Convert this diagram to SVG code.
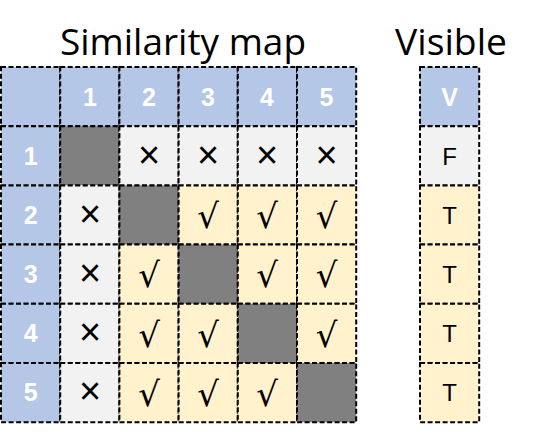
<svg xmlns="http://www.w3.org/2000/svg" width="538" height="433" viewBox="0 0 538 433">
<style>
.c{stroke:#000;stroke-width:2;stroke-dasharray:5,2.5}
.h{fill:#B4C7E7}
.g{fill:#F2F2F2}
.y{fill:#FFF2CC}
.d{fill:#808080}
.hn{font-family:"Liberation Sans",Arial,sans-serif;font-weight:bold;font-size:25px;fill:#fff;text-anchor:middle}
.x{font-family:"Liberation Sans",Arial,sans-serif;font-size:38px;fill:#000;text-anchor:middle}
.v{font-family:"DejaVu Sans",sans-serif;font-size:34px;fill:#000;text-anchor:middle}
.t{font-family:"Liberation Sans",Arial,sans-serif;font-size:24px;fill:#000;text-anchor:middle}
.ti{font-family:"Open Sans","Liberation Sans",sans-serif;font-size:37px;fill:#000;text-anchor:middle}
</style>
<rect width="538" height="433" fill="#fff"/>
<text class="ti" x="183" y="55" textLength="246" lengthAdjust="spacingAndGlyphs">Similarity map</text>
<text class="ti" x="451" y="55" textLength="112" lengthAdjust="spacingAndGlyphs">Visible</text>
<g id="similarity-map">
<g id="row-header">
<rect class="c h" x="1" y="67" width="59.2" height="59.2"/>
<rect class="c h" x="60.2" y="67" width="59.2" height="59.2"/>
<rect class="c h" x="119.4" y="67" width="59.2" height="59.2"/>
<rect class="c h" x="178.6" y="67" width="59.2" height="59.2"/>
<rect class="c h" x="237.8" y="67" width="59.2" height="59.2"/>
<rect class="c h" x="297" y="67" width="59.2" height="59.2"/>
<text class="hn" x="90" y="105.5">1</text>
<text class="hn" x="149" y="105.5">2</text>
<text class="hn" x="208" y="105.5">3</text>
<text class="hn" x="267" y="105.5">4</text>
<text class="hn" x="326.5" y="105.5">5</text>
</g>
<g id="row-1">
<rect class="c h" x="1" y="126.2" width="59.2" height="59.2"/>
<rect class="c d" x="60.2" y="126.2" width="59.2" height="59.2"/>
<rect class="c g" x="119.4" y="126.2" width="59.2" height="59.2"/>
<rect class="c g" x="178.6" y="126.2" width="59.2" height="59.2"/>
<rect class="c g" x="237.8" y="126.2" width="59.2" height="59.2"/>
<rect class="c g" x="297" y="126.2" width="59.2" height="59.2"/>
<text class="hn" x="30.6" y="164.5">1</text>
<text class="x" x="149" y="167.5">×</text>
<text class="x" x="208" y="167.5">×</text>
<text class="x" x="267" y="167.5">×</text>
<text class="x" x="326.5" y="167.5">×</text>
</g>
<g id="row-2">
<rect class="c h" x="1" y="185.4" width="59.2" height="59.2"/>
<rect class="c g" x="60.2" y="185.4" width="59.2" height="59.2"/>
<rect class="c d" x="119.4" y="185.4" width="59.2" height="59.2"/>
<rect class="c y" x="178.6" y="185.4" width="59.2" height="59.2"/>
<rect class="c y" x="237.8" y="185.4" width="59.2" height="59.2"/>
<rect class="c y" x="297" y="185.4" width="59.2" height="59.2"/>
<text class="hn" x="30.6" y="223.5">2</text>
<text class="x" x="90" y="226.5">×</text>
<text class="v" x="208" y="228">√</text>
<text class="v" x="267" y="228">√</text>
<text class="v" x="326.5" y="228">√</text>
</g>
<g id="row-3">
<rect class="c h" x="1" y="244.6" width="59.2" height="59.2"/>
<rect class="c g" x="60.2" y="244.6" width="59.2" height="59.2"/>
<rect class="c y" x="119.4" y="244.6" width="59.2" height="59.2"/>
<rect class="c d" x="178.6" y="244.6" width="59.2" height="59.2"/>
<rect class="c y" x="237.8" y="244.6" width="59.2" height="59.2"/>
<rect class="c y" x="297" y="244.6" width="59.2" height="59.2"/>
<text class="hn" x="30.6" y="282.5">3</text>
<text class="x" x="90" y="285.5">×</text>
<text class="v" x="149" y="287">√</text>
<text class="v" x="267" y="287">√</text>
<text class="v" x="326.5" y="287">√</text>
</g>
<g id="row-4">
<rect class="c h" x="1" y="303.8" width="59.2" height="59.2"/>
<rect class="c g" x="60.2" y="303.8" width="59.2" height="59.2"/>
<rect class="c y" x="119.4" y="303.8" width="59.2" height="59.2"/>
<rect class="c y" x="178.6" y="303.8" width="59.2" height="59.2"/>
<rect class="c d" x="237.8" y="303.8" width="59.2" height="59.2"/>
<rect class="c y" x="297" y="303.8" width="59.2" height="59.2"/>
<text class="hn" x="30.6" y="342">4</text>
<text class="x" x="90" y="345">×</text>
<text class="v" x="149" y="346.5">√</text>
<text class="v" x="208" y="346.5">√</text>
<text class="v" x="326.5" y="346.5">√</text>
</g>
<g id="row-5">
<rect class="c h" x="1" y="363" width="59.2" height="59.2"/>
<rect class="c g" x="60.2" y="363" width="59.2" height="59.2"/>
<rect class="c y" x="119.4" y="363" width="59.2" height="59.2"/>
<rect class="c y" x="178.6" y="363" width="59.2" height="59.2"/>
<rect class="c y" x="237.8" y="363" width="59.2" height="59.2"/>
<rect class="c d" x="297" y="363" width="59.2" height="59.2"/>
<text class="hn" x="30.6" y="401">5</text>
<text class="x" x="90" y="404">×</text>
<text class="v" x="149" y="405.5">√</text>
<text class="v" x="208" y="405.5">√</text>
<text class="v" x="267" y="405.5">√</text>
</g>
</g>
<g id="visible">
<rect class="c h" x="420" y="67" width="59.2" height="59.2"/>
<rect class="c g" x="420" y="126.2" width="59.2" height="59.2"/>
<rect class="c y" x="420" y="185.4" width="59.2" height="59.2"/>
<rect class="c y" x="420" y="244.6" width="59.2" height="59.2"/>
<rect class="c y" x="420" y="303.8" width="59.2" height="59.2"/>
<rect class="c y" x="420" y="363" width="59.2" height="59.2"/>
<text class="hn" x="449.6" y="105.5">V</text>
<text class="t" x="449.6" y="164.5">F</text>
<text class="t" x="449.6" y="223.5">T</text>
<text class="t" x="449.6" y="282.5">T</text>
<text class="t" x="449.6" y="342">T</text>
<text class="t" x="449.6" y="401">T</text>
</g>
</svg>
